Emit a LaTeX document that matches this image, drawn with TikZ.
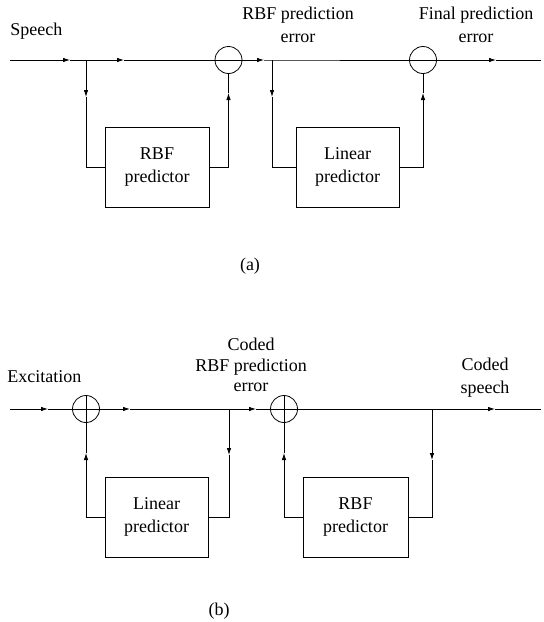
\documentclass[tikz,border=0pt]{standalone}
\usepackage{fontspec}
\setmainfont{Liberation Serif}
\usetikzlibrary{arrows.meta,shapes}
\tikzstyle{sumnode} = [circle, draw=black, minimum size=27pt, inner sep=0pt]
\tikzstyle{predictor} = [rectangle, draw=black, minimum width=104pt, minimum height=80pt, text centered, align=center, font=\fontsize{18}{23}\selectfont]
\tikzstyle{label} = [inner sep=0pt, align=center, font=\fontsize{18}{23}\selectfont]
\tikzstyle{arrow} = [-{Latex[length=7pt,width=4.5pt]}]

\begin{document}
\begin{tikzpicture}[x=1pt,y=-1pt,line width=0.8pt]
\useasboundingbox (0,0) rectangle (544,622);
% (a) analysis
\coordinate (sIn) at (10,60);
\coordinate (sA1) at (70,60);
\coordinate (sJ1) at (86,60);
\coordinate (sA2) at (124,60);
\node (sub1) [sumnode] at (228.5,60) {};
\coordinate (sA3) at (264,60);
\coordinate (sJ2) at (272,60);
\node (sub2) [sumnode] at (423,60) {};
\coordinate (sA4) at (496,60);
\coordinate (sOut) at (541,60);
\node (rbfA) [predictor] at (157,167) {RBF\\predictor};
\node (linA) [predictor, minimum width=103pt] at (347.5,167) {Linear\\predictor};
\coordinate (sD1) at (86,97);
\coordinate (sU1) at (228.5,93);
\coordinate (sD2) at (272,97);
\coordinate (sU2) at (423,93);
\draw (sub1.west) -- (sub1.east);
\draw (sub2.west) -- (sub2.east);

\draw [arrow] (sIn) -- (sA1);
\draw (sA1) -- (sJ1);
\draw [arrow] (sJ1) -- (sA2);
\draw (sA2) -- (sub1);
\draw [arrow] (sub1) -- (sA3);
\draw (sA3) -- (sJ2) -- (sub2);
\draw [arrow] (sub2) -- (sA4);
\draw (sA4) -- (sOut);
\draw [arrow] (sJ1) -- (sD1);
\draw (sD1) |- (rbfA.west);
\draw [arrow] (rbfA.east) -| (sU1);
\draw (sU1) -- (sub1);
\draw [arrow] (sJ2) -- (sD2);
\draw (sD2) |- (linA.west);
\draw [arrow] (linA.east) -| (sU2);
\draw (sU2) -- (sub2);

\node (speechLbl) [label, anchor=base west] at (10,35) {Speech};
\node (rbfErrLbl) [label, anchor=north] at (298,7) {RBF prediction\\error};
\node (finErrLbl) [label, anchor=north] at (476,7) {Final prediction\\error};
\node (capA) [label] at (250,266) {(a)};

% (b) synthesis
\coordinate (eIn) at (10,409);
\coordinate (eA1) at (48,409);
\node (add1) [sumnode] at (86,409) {};
\coordinate (eA2) at (130,409);
\coordinate (eJ1) at (229,409);
\coordinate (eA3) at (256,409);
\node (add2) [sumnode] at (284,409) {};
\coordinate (eJ2) at (432,409);
\coordinate (eA4) at (495,409);
\coordinate (eOut) at (541,409);
\node (linB) [predictor, minimum width=103pt] at (156.5,517) {Linear\\predictor};
\node (rbfB) [predictor, minimum width=105pt] at (355.5,517) {RBF\\predictor};
\coordinate (eD1) at (229,455);
\coordinate (eU1) at (86,453);
\coordinate (eD2) at (432,460);
\coordinate (eU2) at (284,453);
\draw (add1.west) -- (add1.east) (add1.north) -- (add1.south);
\draw (add2.west) -- (add2.east) (add2.north) -- (add2.south);

\draw [arrow] (eIn) -- (eA1);
\draw (eA1) -- (add1);
\draw [arrow] (add1) -- (eA2);
\draw (eA2) -- (eJ1);
\draw [arrow] (eJ1) -- (eA3);
\draw (eA3) -- (add2);
\draw (add2) -- (eJ2);
\draw [arrow] (eJ2) -- (eA4);
\draw (eA4) -- (eOut);
\draw [arrow] (eJ1) -- (eD1);
\draw (eD1) |- (linB.east);
\draw [arrow] (linB.west) -| (eU1);
\draw (eU1) -- (add1);
\draw [arrow] (eJ2) -- (eD2);
\draw (eD2) |- (rbfB.east);
\draw [arrow] (rbfB.west) -| (eU2);
\draw (eU2) -- (add2);

\node (excLbl) [label, anchor=base west] at (7,382) {Excitation};
\node (codErrLbl) [label, anchor=north, font=\fontsize{18}{20.5}\selectfont] at (251,338) {Coded\\RBF prediction\\error};
\node (codSpLbl) [label, anchor=north] at (485,358) {Coded\\speech};
\node (capB) [label] at (219,611) {(b)};
\end{tikzpicture}
\end{document}
